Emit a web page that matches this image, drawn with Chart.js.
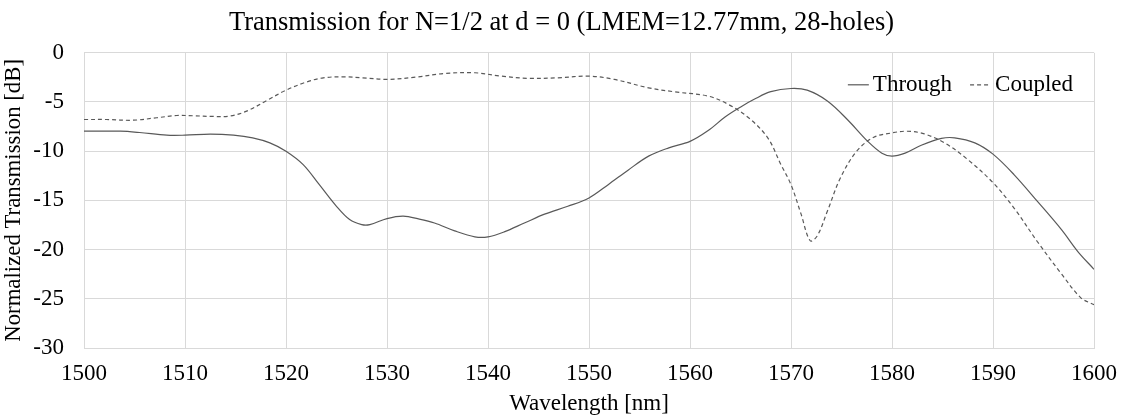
<!DOCTYPE html>
<html lang="en">

<head>
  <title>Transmission N=1/2</title>
  <script src="https://cdn.jsdelivr.net/npm/chart.js"></script>
  <style>
    html, body { margin: 0; padding: 0; background: #fff; }
    .grafico { width: 1123px; height: 418px; }
  </style>
</head>

<body>
  <div class="grafico">
    <canvas id="transmissao"></canvas>
  </div>

<script>
  // dados
  const throughX = [1500, 1503.6, 1505.5, 1508.2, 1510, 1512.5, 1514.8, 1516.7, 1518.4, 1520, 1521.7, 1523.3, 1525, 1526.3, 1527.5, 1528.3, 1530, 1531.6, 1533.2,
    1534.7, 1536.7, 1538.7, 1540, 1541.6, 1543.6, 1545.6, 1547.9, 1550, 1551.9, 1553.9, 1555.9, 1557.9, 1560, 1561.8, 1563.5, 1565.1, 1566.4,
    1568, 1570, 1571.6, 1573.6, 1575.6, 1577.6, 1579, 1580, 1581.3, 1582.9, 1584.9, 1586.2, 1588.2, 1590, 1592.1, 1594.4, 1596.8, 1598.4, 1600];
  const throughY = [-7.97, -7.97, -8.1, -8.37, -8.37, -8.27, -8.37, -8.64, -9.15, -10.0, -11.36, -13.4, -15.6, -16.95, -17.46, -17.46, -16.85, -16.6, -16.9,
    -17.3, -18.1, -18.7, -18.7, -18.2, -17.3, -16.4, -15.6, -14.75, -13.4, -11.9, -10.5, -9.66, -9.0, -7.9, -6.5, -5.45, -4.7,
    -3.95, -3.63, -3.8, -4.9, -6.8, -9.0, -10.2, -10.5, -10.2, -9.4, -8.7, -8.64, -9.15, -10.3, -12.4, -15.1, -18.0, -20.2, -22.0];

  const coupledX = [1500, 1502.2, 1504.9, 1507.2, 1509.2, 1510.8, 1512.8, 1514.4, 1516.1, 1518.1, 1520, 1522, 1523.7, 1525.7, 1527.6, 1530, 1532.9,
    1535.7, 1538.7, 1541.3, 1544, 1546.9, 1550, 1552.5, 1555.9, 1558.5, 1561.8, 1563.8, 1565.8, 1567.7, 1569, 1570, 1571, 1571.9, 1572.6,
    1573.6, 1574.9, 1576.5, 1578.2, 1580, 1581.5, 1583.2, 1585.2, 1587.5, 1590, 1592.1, 1594.4, 1596.8, 1598.7, 1600];
  const coupledY = [-6.78, -6.78, -6.85, -6.6, -6.37, -6.4, -6.47, -6.44, -5.93, -4.85, -3.8, -2.98, -2.54, -2.44, -2.54, -2.7, -2.47,
    -2.1, -2.03, -2.37, -2.6, -2.54, -2.37, -2.7, -3.56, -3.97, -4.4, -5.25, -6.6, -8.64, -11.36, -13.4, -16.4, -19.1, -18.6,
    -16.1, -12.7, -10.0, -8.58, -8.14, -7.97, -8.24, -9.15, -10.85, -13.2, -15.8, -19.2, -22.5, -24.9, -25.6];

  const nomesSeries = ['Through', 'Coupled'];
  const ticksX = { min: 1500, max: 1600, passo: 10 };
  const ticksY = { min: -30, max: 0, passo: 5 };

  const fonte = 'Liberation Serif';
  const corLinha = '#595959';

  function pontos(xs, ys) {
    let lista = [];
    for (var i = 0; i < xs.length; i++) {
      lista.push({ x: xs[i], y: ys[i] });
    }
    return lista;
  }

  // legenda desenhada dentro da area do grafico, no canto superior direito
  const legendaInterna = {
    id: 'legendaInterna',
    afterDraw(chart) {
      const ctx = chart.ctx;
      const area = chart.chartArea;
      const tamAmostra = 21, espaco = 4, entreItens = 18;
      ctx.save();
      ctx.font = '23px "' + fonte + '"';
      ctx.textBaseline = 'middle';
      let x = area.right - 21;
      const y = area.top + 32;
      const sets = chart.data.datasets;
      for (var i = sets.length - 1; i >= 0; i--) {
        const largura = ctx.measureText(sets[i].label).width;
        x -= largura;
        ctx.fillStyle = '#000';
        ctx.fillText(sets[i].label, x, y);
        x -= espaco;
        ctx.strokeStyle = sets[i].borderColor;
        ctx.lineWidth = sets[i].borderWidth;
        ctx.setLineDash(sets[i].borderDash || []);
        ctx.beginPath();
        ctx.moveTo(x - tamAmostra, y);
        ctx.lineTo(x, y);
        ctx.stroke();
        x -= tamAmostra + entreItens;
      }
      ctx.restore();
    }
  };

  const dados = {
    datasets: [{
      label: nomesSeries[0],
      data: pontos(throughX, throughY),
      borderColor: corLinha,
      borderWidth: 1.2,
      pointRadius: 0,
      tension: 0.35,
      fill: false
    }, {
      label: nomesSeries[1],
      data: pontos(coupledX, coupledY),
      borderColor: corLinha,
      borderWidth: 1.2,
      borderDash: [4, 3],
      pointRadius: 0,
      tension: 0.35,
      fill: false
    }]
  };

  const config = {
    type: 'line',
    data: dados,
    plugins: [legendaInterna],
    options: {
      responsive: true,
      maintainAspectRatio: false,
      animation: false,
      layout: { padding: 0 },
      plugins: {
        title: {
          display: true,
          text: 'Transmission for N=1/2 at d = 0 (LMEM=12.77mm, 28-holes)',
          color: '#000',
          font: { family: fonte, size: 26.5, weight: 'normal' },
          padding: { top: 7, bottom: 14 }
        },
        legend: { display: false },
        tooltip: { enabled: false }
      },
      scales: {
        x: {
          type: 'linear',
          min: ticksX.min,
          max: ticksX.max,
          afterFit: function (escala) {
            escala.height = 70;
            escala.paddingRight = 29;
          },
          ticks: {
            stepSize: ticksX.passo,
            color: '#000',
            padding: 12,
            maxRotation: 0,
            font: { family: fonte, size: 23 },
            callback: function (valor) { return String(valor); }
          },
          grid: { color: '#d9d9d9', drawTicks: false },
          border: { color: '#d9d9d9' },
          title: {
            display: true,
            text: 'Wavelength [nm]',
            color: '#000',
            font: { family: fonte, size: 23 },
            padding: { top: 0, bottom: 0 }
          }
        },
        y: {
          min: ticksY.min,
          max: ticksY.max,
          afterFit: function (escala) { escala.width = 84; },
          ticks: {
            stepSize: ticksY.passo,
            color: '#000',
            padding: 20,
            font: { family: fonte, size: 23 }
          },
          grid: { color: '#d9d9d9', drawTicks: false },
          border: { color: '#d9d9d9' },
          title: {
            display: true,
            text: 'Normalized Transmission [dB]',
            color: '#000',
            font: { family: fonte, size: 22.8 },
            padding: { top: 0, bottom: 0 }
          }
        }
      }
    }
  };

  let myChart = new Chart(document.getElementById('transmissao'), config);
</script>
</body>

</html>
